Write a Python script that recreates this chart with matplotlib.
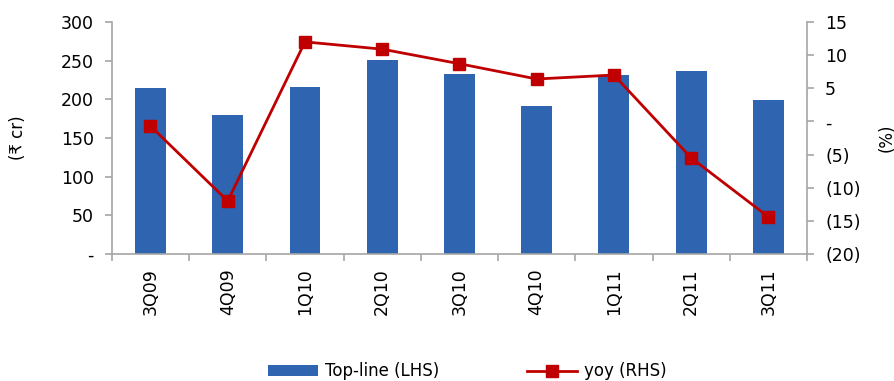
"""Top-line (bars, LHS) vs yoy growth (line, RHS) by quarter."""

import matplotlib

matplotlib.use("Agg")
import matplotlib.pyplot as plt
from matplotlib.ticker import FixedLocator, FuncFormatter

quarters = ["3Q09", "4Q09", "1Q10", "2Q10", "3Q10", "4Q10", "1Q11", "2Q11", "3Q11"]
topline = [215, 180, 216, 251, 233, 191, 231, 237, 199]
yoy = [-0.7, -12.0, 12.0, 10.9, 8.7, 6.4, 7.0, -5.5, -14.4]

BAR_COLOR = "#2E64B0"
LINE_COLOR = "#C00000"
AXIS_GREY = "#A6A6A6"

plt.rcParams["font.family"] = ["DejaVu Sans"]
plt.rcParams["font.size"] = 12

fig = plt.figure(figsize=(8.95, 3.81), dpi=100)
ax = fig.add_axes([0.125, 0.3333, 0.7767, 0.609])
ax2 = ax.twinx()

x = list(range(len(quarters)))
bars = ax.bar(x, topline, width=0.40, color=BAR_COLOR, zorder=2, label="Top-line (LHS)")
line, = ax2.plot(x, yoy, color=LINE_COLOR, lw=2, marker="s", markersize=9,
                 zorder=3, label="yoy (RHS)")

ax.set_xlim(-0.5, len(quarters) - 0.5)
ax.set_ylim(0, 300)
ax.set_yticks(range(0, 301, 50))
ax.yaxis.set_major_formatter(FuncFormatter(lambda v, _: "-" if v == 0 else f"{v:.0f}"))

ax2.set_ylim(-20, 15)
ax2.set_yticks(range(-20, 16, 5))


def pct_fmt(v, _):
    if v == 0:
        return "-"
    if v < 0:
        return f"({abs(v):.0f})"
    return f"{v:.0f}"


ax2.yaxis.set_major_formatter(FuncFormatter(pct_fmt))

# category ticks between bars, labels centred on bars
ax.xaxis.set_major_locator(FixedLocator([i - 0.5 for i in range(len(quarters) + 1)]))
ax.xaxis.set_major_formatter(FuncFormatter(lambda v, _: ""))
ax.xaxis.set_minor_locator(FixedLocator(x))
ax.set_xticklabels(quarters, minor=True, rotation=90)
ax.tick_params(axis="x", which="minor", length=0, pad=10, labelsize=12.5)
ax.tick_params(axis="x", which="major", length=5, color=AXIS_GREY, width=1.2)
ax.tick_params(axis="y", length=5, color=AXIS_GREY, width=1.2, labelsize=12.5, pad=8)
ax2.tick_params(axis="y", length=5, color=AXIS_GREY, width=1.2, labelsize=12.5, pad=8)

for a in (ax, ax2):
    a.spines["top"].set_visible(False)
    for side in ("left", "right", "bottom"):
        a.spines[side].set_color(AXIS_GREY)
        a.spines[side].set_linewidth(1.2)
ax.spines["right"].set_visible(False)
ax2.spines["left"].set_visible(False)
ax2.spines["bottom"].set_visible(False)

ax.set_ylabel("(₹ cr)", fontsize=12, labelpad=24)
ax2.set_ylabel("(%)", fontsize=12, labelpad=12)

fig.legend(
    [bars, line],
    ["Top-line (LHS)", "yoy (RHS)"],
    loc="center",
    bbox_to_anchor=(0.522, 0.025),
    ncol=2,
    frameon=False,
    fontsize=12,
    handlelength=3.0,
    handleheight=0.6,
    columnspacing=5.3,
    handletextpad=0.4,
)

fig.savefig("out.png", dpi=100, facecolor="white")
